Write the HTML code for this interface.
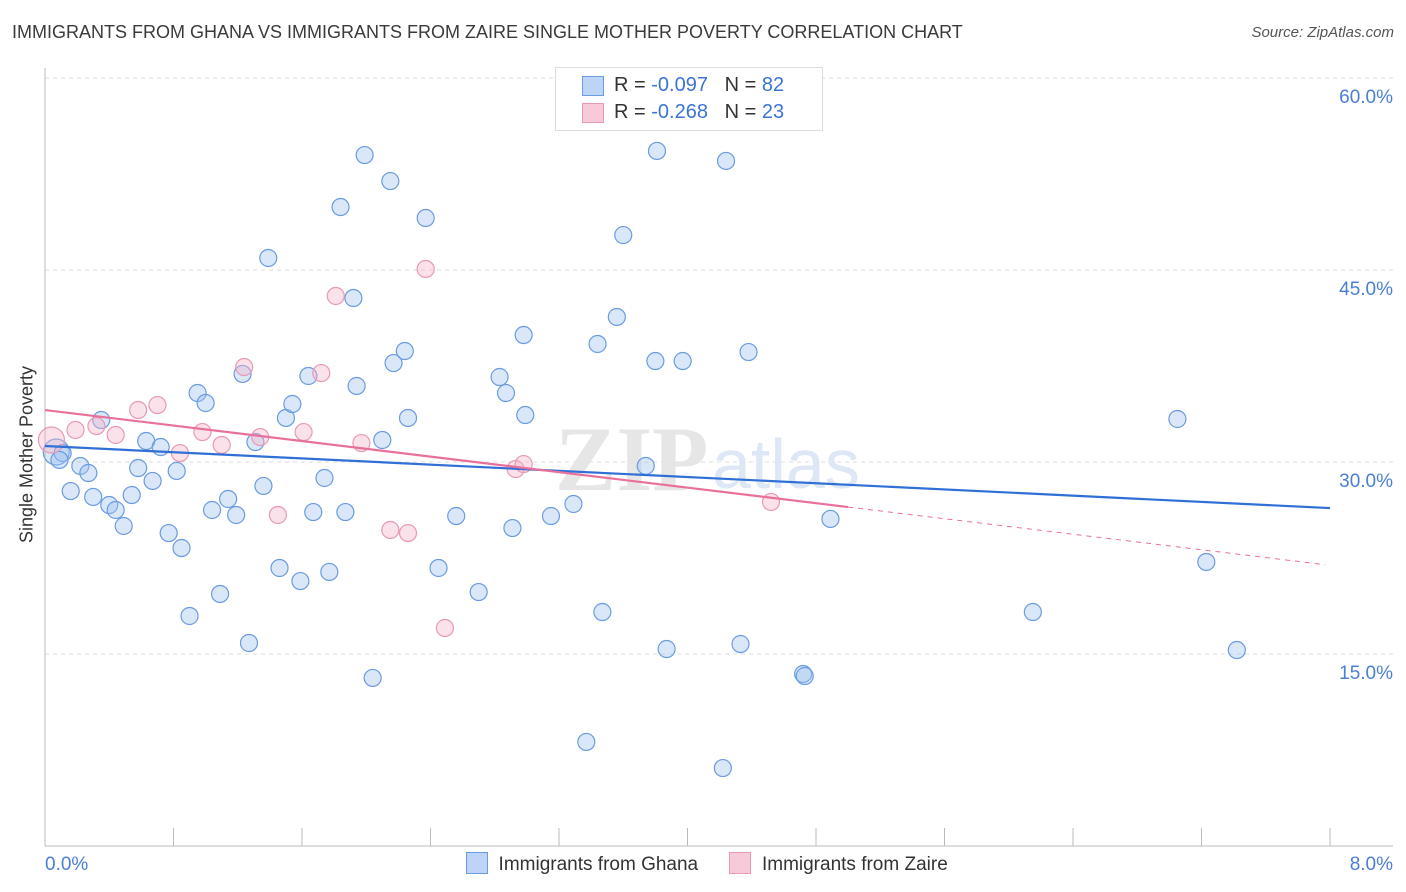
<!DOCTYPE html>
<html><head><meta charset="utf-8"><style>
body{margin:0;background:#fff;font-family:"Liberation Sans",sans-serif;}
#wrap{position:relative;width:1406px;height:892px;overflow:hidden}
</style></head><body>
<div id="wrap">
<svg id="chart" width="1406" height="892" style="position:absolute;left:0;top:0"></svg>
</div>
<script>
const xTickLabels=["0.0%","8.0%"];
const yTickValues=[15,30,45,60];
const yTickLabels=["15.0%","30.0%","45.0%","60.0%"];
const ghanaX=[0.07,0.11,0.09,0.35,0.22,0.27,0.16,0.30,0.40,0.44,0.49,0.54,0.58,0.63,0.67,0.72,0.77,0.82,0.85,0.90,0.95,1.00,1.04,1.09,1.14,1.19,1.23,1.27,1.31,1.36,1.39,1.46,1.50,1.54,1.59,1.64,1.67,1.74,1.77,1.84,1.87,1.92,1.94,1.99,2.04,2.10,2.15,2.17,2.24,2.26,2.37,2.45,2.56,2.70,2.83,2.87,2.91,2.98,2.99,3.15,3.29,3.37,3.44,3.47,3.56,3.60,3.74,3.80,3.81,3.87,3.97,4.24,4.22,4.33,4.38,4.72,4.73,4.89,6.15,7.05,7.23,7.42];
const ghanaY=[30.78,30.70,30.16,33.28,29.69,29.14,27.73,27.27,26.64,26.25,25.0,27.42,29.53,31.64,28.52,31.17,24.45,29.30,23.28,17.97,35.39,34.61,26.25,19.69,27.11,25.86,36.88,15.86,31.56,28.13,45.94,21.72,33.44,34.53,20.70,36.72,26.09,28.75,21.41,49.92,26.09,42.81,35.94,53.98,13.13,31.72,51.95,37.73,38.67,33.44,49.06,21.72,25.78,19.84,36.64,35.39,24.84,39.92,33.67,25.78,26.72,8.13,39.22,18.28,41.33,47.73,29.69,37.89,54.30,15.39,37.89,53.52,6.09,15.78,38.59,13.44,13.28,25.55,18.28,33.36,22.19,15.31];
const zaireX=[0.04,0.19,0.32,0.44,0.58,0.70,0.84,0.98,1.10,1.24,1.34,1.45,1.61,1.72,1.81,1.97,2.15,2.26,2.37,2.49,2.93,2.98,4.52];
const zaireY=[31.72,32.5,32.81,32.11,34.06,34.45,30.70,32.34,31.33,37.42,31.95,25.86,32.34,36.95,42.97,31.48,24.69,24.45,45.08,17.03,29.45,29.84,26.88];
const ghanaTrend=[31.25,26.4];
const zaireTrend=[34.06,21.93];
const zaireSolidEnd=5.0;

const X0=45,X1=1330,Y0=846,PXPER=192/15;
const sx=v=>X0+(v/8)*(X1-X0);
const sy=v=>Y0-v*PXPER;
const svg=document.getElementById('chart');
const NS='http://www.w3.org/2000/svg';
function mk(t,a){const e=document.createElementNS(NS,t);for(const k in a)e.setAttribute(k,a[k]);svg.appendChild(e);return e;}

// gridlines & y labels
yTickValues.forEach((v,i)=>{
  const g=mk('line',{x1:X0,x2:1393,y1:sy(v),y2:sy(v),stroke:'#dcdcdc','stroke-dasharray':'4,4'});
  
  
  const t=mk('text',{x:1393,y:sy(v)+25,'text-anchor':'end','font-size':19,fill:'#4a7fd6'});
  t.textContent=yTickLabels[i];
  
  
});
// axes
let ax=mk('line',{x1:X0,x2:X0,y1:68,y2:Y0,stroke:'#bbb'});


ax=mk('line',{x1:X0,x2:1393,y1:Y0,y2:Y0,stroke:'#bbb'});


for(let i=0;i<=10;i++){
  const tk=mk('line',{x1:sx(i*0.8),x2:sx(i*0.8),y1:Y0-18,y2:Y0,stroke:'#bbb'});
  
  
}
[[0,'start',X0],[1,'end',1393]].forEach(([i,a,x])=>{
  const t=mk('text',{x:x,y:870,'text-anchor':a,'font-size':19,fill:'#4a7fd6'});
  t.textContent=xTickLabels[i];
  
  
});
// watermark
let wm=mk('text',{x:555,y:490,'font-size':92,fill:'#e6e6e6','font-family':'Liberation Serif,serif','font-weight':'bold'});
wm.textContent='ZIP';


wm=mk('text',{x:712,y:488,'font-size':70,fill:'#dde7f5'});
wm.textContent='atlas';



// points
function pts(xs,ys,fill,stroke,name){
  xs.forEach((x,i)=>{
    const r=(i===0)?13:8.5;
    const c=mk('circle',{cx:sx(x),cy:sy(ys[i]),r:r,fill:fill,stroke:stroke,'stroke-width':1.2});
    
    
  });
}
pts(ghanaX,ghanaY,'rgba(160,195,240,0.4)','#6b9be0','ghana-point');
pts(zaireX,zaireY,'rgba(245,180,200,0.4)','#e89ab4','zaire-point');

// trend lines
let l=mk('line',{x1:sx(0),y1:sy(ghanaTrend[0]),x2:sx(8),y2:sy(ghanaTrend[1]),stroke:'#2f6fd6','stroke-width':2.2});


const zAt=v=>zaireTrend[0]+(zaireTrend[1]-zaireTrend[0])*v/8;
l=mk('line',{x1:sx(0),y1:sy(zaireTrend[0]),x2:sx(zaireSolidEnd),y2:sy(zAt(zaireSolidEnd)),stroke:'#e8709a','stroke-width':2.2});


l=mk('line',{x1:sx(zaireSolidEnd),y1:sy(zAt(zaireSolidEnd)),x2:sx(7.97),y2:sy(zAt(7.97)),stroke:'#e8709a','stroke-width':1,'stroke-dasharray':'5,5'});


</script>
<div style="position:absolute;left:12px;top:22px;font-size:18px;color:#3a3a3a">IMMIGRANTS FROM GHANA VS IMMIGRANTS FROM ZAIRE SINGLE MOTHER POVERTY CORRELATION CHART</div>
<div style="position:absolute;right:12px;top:24px;font-size:15px;font-style:italic;color:#555">Source: ZipAtlas.com</div>
<div style="position:absolute;left:-63px;top:444px;width:180px;text-align:center;transform:rotate(-90deg);font-size:18px;color:#333">Single Mother Poverty</div>
<div style="position:absolute;left:555px;top:67px;width:266px;height:62px;border:1px solid #ddd;background:#fff;font-size:20px;color:#333">
 <div style="position:absolute;left:26px;top:8px;width:20px;height:18px;background:#bcd5f6;border:1px solid #6b9be0"></div>
 <div style="position:absolute;left:58px;top:6px">R = <span style="color:#3a74d6">-0.097</span>&nbsp;&nbsp;&nbsp;N = <span style="color:#3a74d6">82</span></div>
 <div style="position:absolute;left:26px;top:35px;width:20px;height:18px;background:#f8c9d8;border:1px solid #e89ab4"></div>
 <div style="position:absolute;left:58px;top:33px">R = <span style="color:#3a74d6">-0.268</span>&nbsp;&nbsp;&nbsp;N = <span style="color:#3a74d6">23</span></div>
</div>
<div style="position:absolute;left:466px;top:852px;font-size:19px;color:#333;white-space:nowrap">
 <span><span style="display:inline-block;width:20px;height:20px;background:#bcd5f6;border:1px solid #6b9be0;vertical-align:-4px"></span>&nbsp; Immigrants from Ghana</span>
 <span style="margin-left:26px"><span style="display:inline-block;width:20px;height:20px;background:#f8c9d8;border:1px solid #e89ab4;vertical-align:-4px"></span>&nbsp; Immigrants from Zaire</span>
</div>
</body></html>
